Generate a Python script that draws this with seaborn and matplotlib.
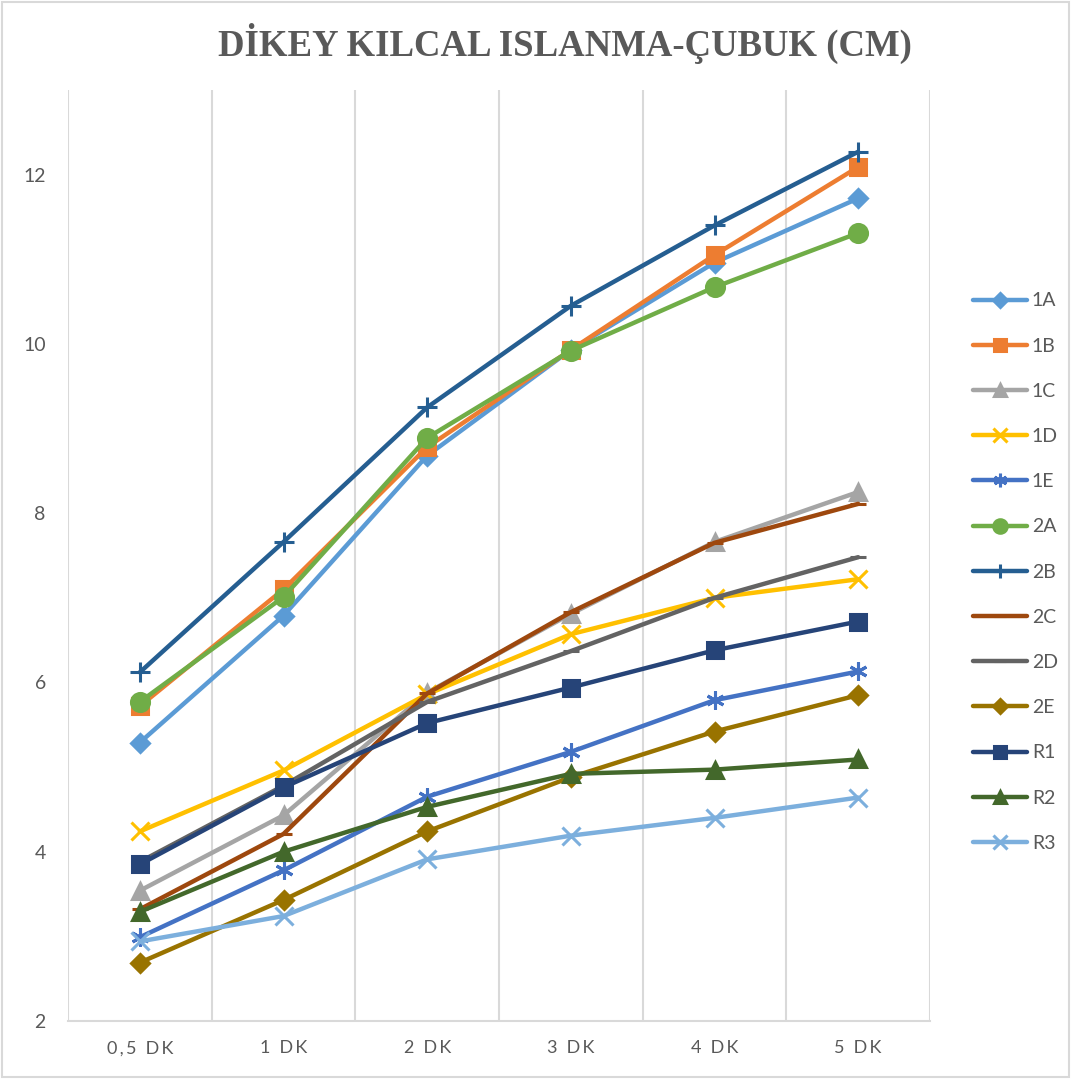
import matplotlib
matplotlib.use("Agg")
import matplotlib.pyplot as plt
import seaborn as sns
import pandas as pd
from matplotlib.patches import Rectangle

categories = ["0,5 DK", "1 DK", "2 DK", "3 DK", "4 DK", "5 DK"]
tick_labels = ["0\u2009,\u20095\u2009 \u2009D\u2009K", "1\u2009 \u2009D\u2009K", "2\u2009 \u2009D\u2009K",
               "3\u2009 \u2009D\u2009K", "4\u2009 \u2009D\u2009K", "5\u2009 \u2009D\u2009K"]

s_1A = [5.29, 6.79, 8.68, 9.93, 10.96, 11.72]
s_1B = [5.72, 7.10, 8.78, 9.93, 11.05, 12.09]
s_1C = [3.54, 4.43, 5.88, 6.81, 7.66, 8.25]
s_1D = [4.24, 4.96, 5.86, 6.57, 7.00, 7.22]
s_1E = [2.99, 3.78, 4.65, 5.18, 5.79, 6.13]
s_2A = [5.77, 7.01, 8.89, 9.92, 10.67, 11.31]
s_2B = [6.12, 7.66, 9.25, 10.45, 11.40, 12.27]
s_2C = [3.32, 4.21, 5.87, 6.83, 7.65, 8.11]
s_2D = [3.88, 4.78, 5.77, 6.37, 7.00, 7.48]
s_2E = [2.69, 3.43, 4.24, 4.88, 5.42, 5.85]
s_R1 = [3.85, 4.76, 5.52, 5.94, 6.38, 6.72]
s_R2 = [3.29, 4.00, 4.53, 4.92, 4.97, 5.09]
s_R3 = [2.94, 3.24, 3.91, 4.19, 4.40, 4.64]

series = {"1A": s_1A, "1B": s_1B, "1C": s_1C, "1D": s_1D, "1E": s_1E,
          "2A": s_2A, "2B": s_2B, "2C": s_2C, "2D": s_2D, "2E": s_2E,
          "R1": s_R1, "R2": s_R2, "R3": s_R3}
names = list(series.keys())

colors = {"1A": "#5B9BD5", "1B": "#ED7D31", "1C": "#A5A5A5", "1D": "#FFC000",
          "1E": "#4472C4", "2A": "#70AD47", "2B": "#255E91", "2C": "#9E480E",
          "2D": "#636363", "2E": "#997300", "R1": "#264478", "R2": "#43682B",
          "R3": "#7CAFDD"}
markers = {"1A": "D", "1B": "s", "1C": "^", "1D": "x", "1E": (6, 2, 0),
           "2A": "o", "2B": "+", "2C": "_", "2D": "_", "2E": "D",
           "R1": "s", "R2": "^", "R3": "x"}
msize = {"1A": 9, "1B": 12, "1C": 12, "1D": 13, "1E": 13, "2A": 13, "2B": 14,
         "2C": 12, "2D": 12, "2E": 9, "R1": 12, "R2": 12, "R3": 13}

rows = []
for n in names:
    for i, v in enumerate(series[n]):
        rows.append({"series": n, "x": i, "value": v})
df = pd.DataFrame(rows)

sns.set_theme(style="white")
plt.rcParams["font.family"] = ["Lato", "DejaVu Sans"]

fig = plt.figure(figsize=(10.71, 10.79), dpi=100)
ax = fig.add_axes([68 / 1071, 1 - 1021 / 1079, (930 - 68) / 1071, (1021 - 90) / 1079])

for n in names:
    sub = df[df["series"] == n]
    sns.lineplot(data=sub, x="x", y="value", ax=ax, color=colors[n], linewidth=3.2,
                 marker=markers[n], markersize=msize[n], markeredgewidth=2.2,
                 markeredgecolor=colors[n], label=n)

ax.set_xlim(-0.5, 5.5)
ax.set_ylim(2, 13)
ax.set_yticks([2, 4, 6, 8, 10, 12])
ax.set_yticklabels(["2", "4", "6", "8", "10", "12"])
ax.set_xticks(range(6))
ax.set_xticklabels(tick_labels)
ax.set_xlabel("")
ax.set_ylabel("")
ax.tick_params(axis="both", length=0, colors="#595959", labelsize=14)
ax.tick_params(axis="y", pad=16)
ax.tick_params(axis="x", pad=14, labelsize=13)
for xv in [-0.5, 0.5, 1.5, 2.5, 3.5, 4.5, 5.5]:
    ax.axvline(xv, color="#D9D9D9", linewidth=1.5, zorder=0)
for sp in ["top", "right", "left"]:
    ax.spines[sp].set_visible(False)
ax.spines["bottom"].set_color("#D9D9D9")
ax.spines["bottom"].set_linewidth(1.5)

handles, labels = ax.get_legend_handles_labels()
if ax.get_legend():
    ax.get_legend().remove()
leg = fig.legend(handles, labels, loc="upper left", bbox_to_anchor=(955 / 1071, 1 - 275 / 1079),
                 frameon=False, fontsize=14, labelspacing=1.45, handlelength=2.8,
                 handletextpad=0.25, labelcolor="#595959", markerscale=0.75)

fig.text(565 / 1071, 1 - 43 / 1079, "DİKEY KILCAL ISLANMA-ÇUBUK (CM)",
         ha="center", va="center", fontsize=26.5, fontweight="bold",
         family="Liberation Serif", color="#595959")

fig.patches.append(Rectangle((2 / 1071, 2 / 1079), 1067 / 1071, 1075 / 1079,
                             transform=fig.transFigure, fill=False,
                             edgecolor="#D9D9D9", linewidth=1.5))

fig.savefig("out.png", dpi=100)
